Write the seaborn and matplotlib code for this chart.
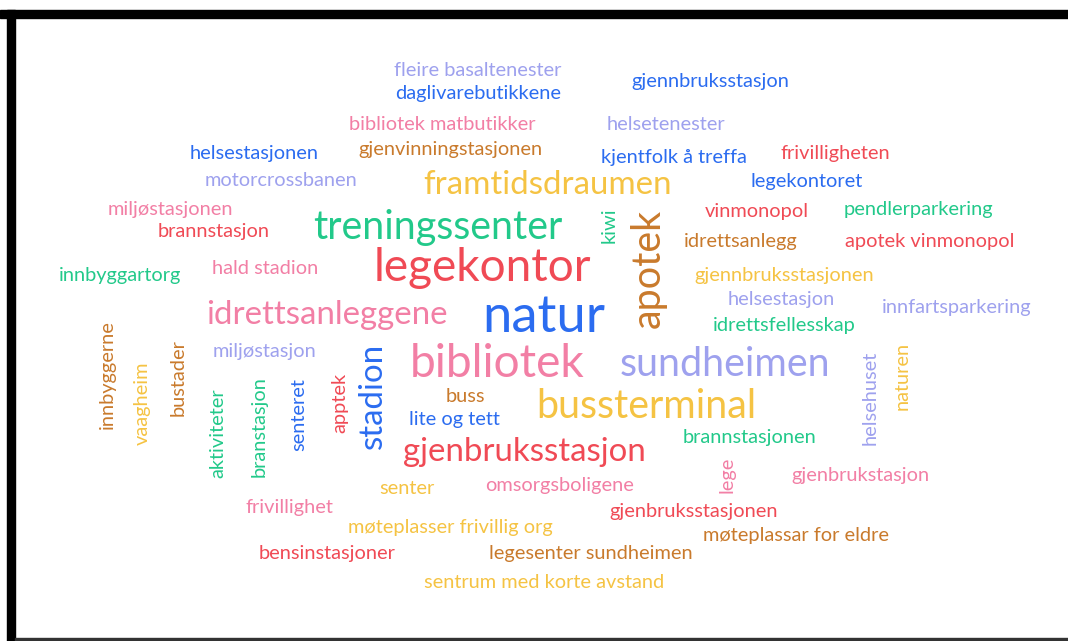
import matplotlib
matplotlib.use("Agg")
import matplotlib.pyplot as plt
from matplotlib.patches import Rectangle
import seaborn as sns

sns.set_theme(style="white")
plt.rcParams['font.family'] = ['Lato', 'DejaVu Sans']

# answers and how often they were given
words = [
    "fleire basaltenester", "daglivarebutikkene", "gjennbruksstasjon",
    "bibliotek matbutikker", "helsetenester", "helsestasjonen",
    "gjenvinningstasjonen", "kjentfolk å treffa", "frivilligheten",
    "motorcrossbanen", "framtidsdraumen", "legekontoret",
    "miljøstasjonen", "treningssenter", "vinmonopol", "pendlerparkering",
    "brannstasjon", "idrettsanlegg", "apotek vinmonopol", "legekontor",
    "innbyggartorg", "hald stadion", "gjennbruksstasjonen", "helsestasjon",
    "innfartsparkering", "natur", "idrettsanleggene", "idrettsfellesskap",
    "miljøstasjon", "bibliotek", "sundheimen", "buss", "bussterminal",
    "lite og tett", "brannstasjonen", "gjenbruksstasjon", "gjenbrukstasjon",
    "senter", "omsorgsboligene", "frivillighet", "gjenbruksstasjonen",
    "møteplasser frivillig org", "møteplassar for eldre", "bensinstasjoner",
    "legesenter sundheimen", "sentrum med korte avstand",
    "kiwi", "apotek", "innbyggerne", "vaagheim", "bustader", "aktiviteter",
    "branstasjon", "senteret", "apptek", "stadion", "helsehuset", "naturen",
    "lege",
]
counts = [
    1, 1, 1,
    1, 1, 1,
    1, 1, 1,
    1, 3, 1,
    1, 4, 1, 1,
    1, 1, 1, 5,
    1, 1, 1, 1,
    1, 6, 3, 1,
    1, 5, 4, 1, 4,
    1, 1, 3, 1,
    1, 1, 1, 1,
    1, 1, 1,
    1, 1,
    1, 4, 1, 1, 1, 1,
    1, 1, 1, 3, 1, 1,
    1,
]

# layout of the cloud (pixel centres), orientation and colour
xs = [478, 478, 710, 442, 666, 254, 450, 674, 835, 281, 548, 807, 170, 438,
      757, 918, 214, 741, 930, 482, 120, 265, 784, 781, 957, 544, 327, 784,
      265, 497, 725, 465, 646, 454, 749, 524, 860, 407, 560, 289, 694, 450,
      796, 327, 591, 544,
      609, 648, 107, 142, 178, 218, 259, 299, 340, 373, 870, 902, 727]
ys = [70, 94, 82, 125, 125, 153, 149, 157, 153, 181, 185, 181, 209, 227,
      212, 209, 232, 241, 241, 268, 275, 268, 276, 299, 307, 318, 315, 326,
      351, 364, 364, 397, 406, 420, 437, 452, 476, 488, 485, 507, 512, 528,
      536, 554, 554, 582,
      225, 268, 375, 403, 378, 433, 427, 415, 403, 396, 398, 376, 475]
vertical = [False] * 46 + [True] * 13

BLUE, RED, PINK, GREEN = "#2b6cf0", "#f04a55", "#f27fa5", "#22c98a"
ORANGE, YELLOW, LAV = "#c97a2c", "#f5c343", "#9ea1ee"
colors = [
    LAV, BLUE, BLUE, PINK, LAV, BLUE, ORANGE, BLUE, RED, LAV, YELLOW, BLUE,
    PINK, GREEN, RED, GREEN, RED, ORANGE, RED, RED, GREEN, PINK, YELLOW, LAV,
    LAV, BLUE, PINK, GREEN, LAV, PINK, LAV, ORANGE, YELLOW, BLUE, GREEN, RED,
    PINK, YELLOW, PINK, PINK, RED, YELLOW, ORANGE, RED, ORANGE, YELLOW,
    GREEN, ORANGE, ORANGE, YELLOW, ORANGE, GREEN, GREEN, BLUE, RED, BLUE,
    LAV, YELLOW, PINK,
]

W, H = 1068, 641
fig = plt.figure(figsize=(W / 100, H / 100), dpi=100)
ax = fig.add_axes([0, 0, 1, 1])
ax.set_xlim(0, W)
ax.set_ylim(H, 0)
ax.axis("off")

# frame of the screenshot
ax.add_patch(Rectangle((0, 10), W, 8, color="black"))
ax.add_patch(Rectangle((7, 10), 8, H - 10, color="black"))
ax.add_patch(Rectangle((15, 638), W, 3, color="#333333"))

for w, c, x, y, v, col in zip(words, counts, xs, ys, vertical, colors):
    px = 13.5 + 6.5 * c
    ax.text(x, y, w, fontsize=px * 72 / 100, color=col,
            rotation=90 if v else 0, ha="center", va="center")

plt.savefig("out.png", dpi=100)
